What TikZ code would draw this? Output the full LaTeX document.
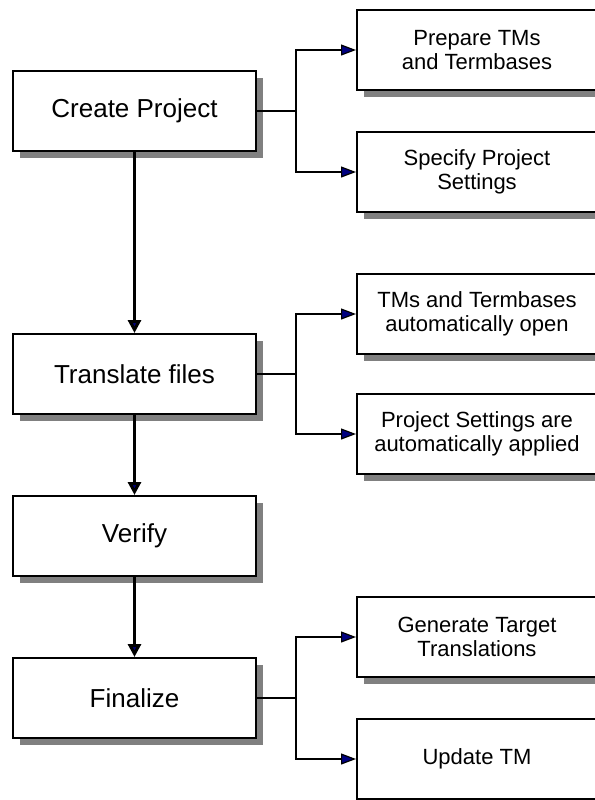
\documentclass[tikz,border=0pt]{standalone}
\usepackage{fontspec}
\setmainfont{Liberation Sans}
\usetikzlibrary{arrows.meta,shadows}
\definecolor{tipblue}{rgb}{0,0,0.5}

\begin{document}
\begin{tikzpicture}[
  stage/.style = {draw, line width=1pt, fill=white, minimum width=121.5pt, minimum height=40pt,
                 font=\fontsize{13}{15}\selectfont,
                 drop shadow={shadow xshift=3.5pt, shadow yshift=-3.5pt, fill=gray, opacity=1}},
  task/.style = {stage, minimum width=120pt, align=center, font=\fontsize{11}{12}\selectfont},
  flow/.style = {line width=1.5pt, -{Triangle[length=6.5pt,width=6.5pt,fill=tipblue]}},
  branch/.style = {line width=0.6pt, -{Triangle[length=7.5pt,width=5.5pt,fill=tipblue]}},
  node distance={81pt}]
        \useasboundingbox (0,0) rectangle (297.5pt,-400pt);
        \clip (0,0) rectangle (297.5pt,-400pt);
        \node[stage] (create) at (67.25pt,-55.5pt) {Create Project};
        \node[stage] (translate) [below of=create, node distance=131.5pt] {Translate files};
        \node[stage] (verify) [below of=translate] {Verify};
        \node[stage] (finalize) [below of=verify] {Finalize};
        \node[task] (prep) [right of=create, node distance=171.25pt, yshift=30.5pt] {Prepare TMs\\and Termbases};
        \node[task] (spec) [right of=create, node distance=171.25pt, yshift=-30.5pt] {Specify Project\\Settings};
        \node[task] (open) [right of=translate, node distance=171.25pt, yshift=30pt] {TMs and Termbases\\automatically open};
        \node[task] (apply) [right of=translate, node distance=171.25pt, yshift=-30pt] {Project Settings are\\automatically applied};
        \node[task] (gen) [right of=finalize, node distance=171.25pt, yshift=30.5pt] {Generate Target\\Translations};
        \node[task] (upd) [right of=finalize, node distance=171.25pt, yshift=-30.5pt] {Update TM};
        \draw[flow] (create) -- (translate);
        \draw[flow] (translate) -- (verify);
        \draw[flow] (verify) -- (finalize);
        \draw[line width=0.6pt] (create.east) -- ++(19.5pt,0) coordinate (j1);
        \draw[branch] (j1) |- (prep);
        \draw[branch] (j1) |- (spec);
        \draw[line width=0.6pt] (translate.east) -- ++(19.5pt,0) coordinate (j2);
        \draw[branch] (j2) |- (open);
        \draw[branch] (j2) |- (apply);
        \draw[line width=0.6pt] (finalize.east) -- ++(19.5pt,0) coordinate (j3);
        \draw[branch] (j3) |- (gen);
        \draw[branch] (j3) |- (upd);
\end{tikzpicture}
\end{document}
